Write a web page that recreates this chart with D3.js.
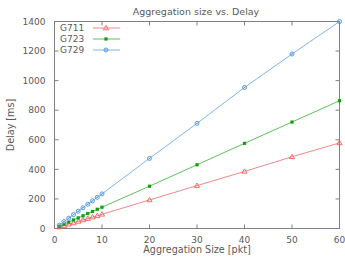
<!DOCTYPE html>
<html><head><meta charset="utf-8">
<script src="https://cdn.jsdelivr.net/npm/d3@7"></script>
<style>body{margin:0;background:#fff}svg{display:block}text{font-family:"DejaVu Sans",sans-serif;fill:#5a5a5a}</style>
</head><body><svg id="c" width="345" height="259"></svg>
<script>
const sizes = [1,2,3,4,5,6,7,8,9,10,20,30,40,50,60];
const g711 = [10,19,29,38,48,58,67,77,86,96,193,290,386,485,579];
const g723 = [14,29,43,58,72,86,101,115,130,144,286,431,576,720,864];
const g729 = [23,47,70,94,117,140,164,187,211,234,474,711,954,1180,1400];
const xTicks = [0,10,20,30,40,50,60];
const yTicks = [0,200,400,600,800,1000,1200,1400];
const seriesNames = ["G711","G723","G729"];

const svg = d3.select("#c");
const L=54.5, R=339.5, T=21.5, B=228.5;
const x = d3.scaleLinear().domain([0,60]).range([L,R]);
const y = d3.scaleLinear().domain([0,1400]).range([B,T]);
const frame = "#808080";

const g = svg.append("g");
xTicks.forEach(v=>{
  g.append("line").attr("x1",x(v)).attr("x2",x(v)).attr("y1",B).attr("y2",B-4).attr("stroke",frame);
  g.append("line").attr("x1",x(v)).attr("x2",x(v)).attr("y1",T).attr("y2",T+4).attr("stroke",frame);
  g.append("text").attr("x",x(v)).attr("y",B+14).attr("text-anchor","middle").attr("font-size","9px").text(v);
});
yTicks.forEach(v=>{
  g.append("line").attr("x1",L).attr("x2",L+4).attr("y1",y(v)).attr("y2",y(v)).attr("stroke",frame);
  g.append("line").attr("x1",R).attr("x2",R-4).attr("y1",y(v)).attr("y2",y(v)).attr("stroke",frame);
  g.append("text").attr("x",L-9).attr("y",y(v)+3.2).attr("text-anchor","end").attr("font-size","9px").text(v);
});
svg.append("rect").attr("x",L).attr("y",T).attr("width",R-L).attr("height",B-T).attr("fill","none").attr("stroke",frame);

svg.append("text").attr("x",196).attr("y",15).attr("text-anchor","middle").attr("font-size","9.5px").text("Aggregation size vs. Delay");
svg.append("text").attr("x",197).attr("y",253).attr("text-anchor","middle").attr("font-size","9.6px").text("Aggregation Size [pkt]");
svg.append("text").attr("transform","translate(14,125) rotate(-90)").attr("text-anchor","middle").attr("font-size","9.6px").text("Delay [ms]");

const series = [
  {name:seriesNames[0], vals:g711, color:"#f06060", line:"#f08a8a", marker:"tri"},
  {name:seriesNames[1], vals:g723, color:"#10a010", line:"#60c060", marker:"sq"},
  {name:seriesNames[2], vals:g729, color:"#4a90e0", line:"#80b4ec", marker:"circ"}
];
function marker(sel, m, color, cx, cy){
  if(m==="tri") sel.append("path").attr("d",`M${cx},${cy-2.6}L${cx+2.6},${cy+1.8}L${cx-2.6},${cy+1.8}Z`).attr("fill","none").attr("stroke",color).attr("stroke-width",0.9);
  else if(m==="sq") sel.append("rect").attr("x",cx-1.6).attr("y",cy-1.6).attr("width",3.2).attr("height",3.2).attr("fill",color);
  else { sel.append("circle").attr("cx",cx).attr("cy",cy).attr("r",2).attr("fill","none").attr("stroke",color).attr("stroke-width",0.9);
         sel.append("circle").attr("cx",cx).attr("cy",cy).attr("r",0.7).attr("fill",color); }
}
const line = d3.line().x((d,i)=>x(sizes[i])).y(d=>y(d));
series.forEach(s=>{
  svg.append("path").datum(s.vals).attr("d",line).attr("fill","none").attr("stroke",s.line).attr("stroke-width",1);
  s.vals.forEach((v,i)=>marker(svg,s.marker,s.color,x(sizes[i]),y(v)));
});
series.forEach((s,i)=>{
  const ly = 28+i*11;
  svg.append("text").attr("x",60).attr("y",ly+3.2).attr("font-size","9px").text(s.name);
  svg.append("line").attr("x1",93).attr("x2",120).attr("y1",ly).attr("y2",ly).attr("stroke",s.line).attr("stroke-width",1);
  marker(svg,s.marker,s.color,106,ly);
});
</script></body></html>
